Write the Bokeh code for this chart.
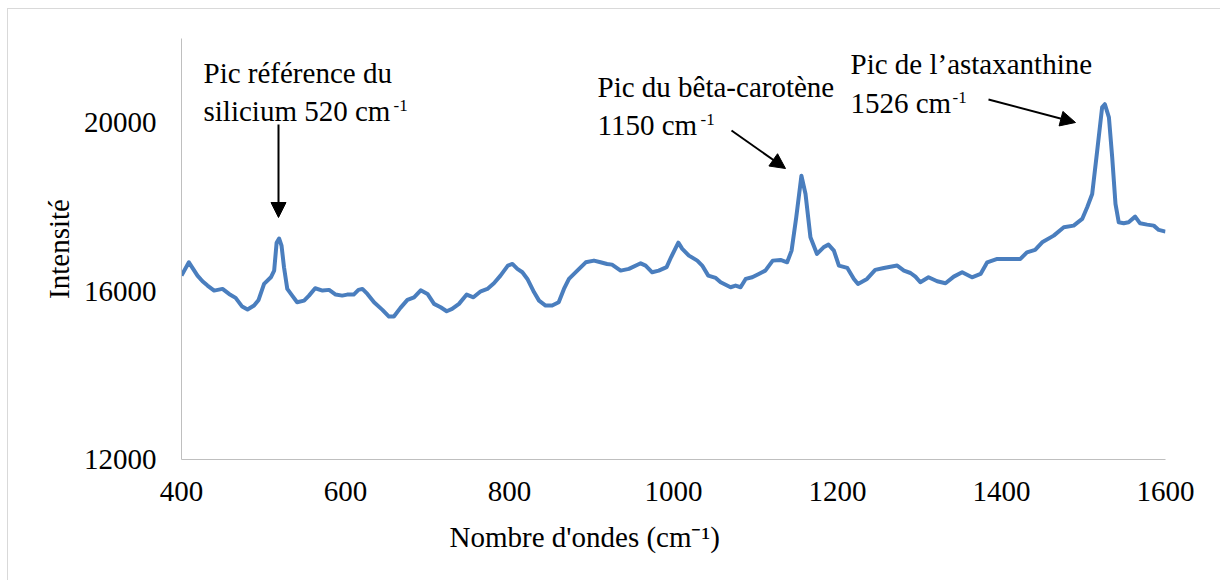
import math
from bokeh.plotting import figure
from bokeh.models import Range1d, Label, Arrow, NormalHead, FixedTicker, Title
from bokeh.embed import file_html
from bokeh.resources import INLINE

# ---- data ----
wavenumber = [400, 409, 419.5, 425.6, 431.7, 439.8, 450, 458, 466, 474, 480.5, 488.5, 494, 500.7,
              509, 513, 516, 519, 522, 525, 529, 535, 541, 549.5, 555.5, 563, 572, 580, 588, 596,
              602, 610, 615.8, 620.6, 626.7, 634.8, 645, 653, 659, 667, 675.5, 683.6, 691.7, 700,
              708, 716, 723.4, 730, 738.4, 747.8, 756, 765, 773, 781, 789, 798, 803.5, 809.6,
              815.7, 821.8, 830, 836, 844, 852, 860, 866.4, 872.5, 882.7, 893, 903, 911, 919, 925,
              935.5, 945.6, 960, 966, 974, 982, 991.6, 997, 1005.9, 1010.7, 1018.8, 1029, 1035,
              1042.4, 1051.5, 1057.5, 1069.6, 1075.7, 1081.8, 1088, 1096, 1104, 1112, 1121,
              1130.5, 1138.6, 1144, 1149.7, 1156, 1161, 1167, 1175, 1183, 1189, 1195.6, 1201.7,
              1212, 1220, 1225, 1236, 1246, 1256.5, 1272.8, 1281, 1289, 1295, 1301, 1311, 1321.6,
              1331.7, 1341.8, 1352, 1364, 1374.5, 1382.6, 1394.8, 1411, 1423, 1431, 1441, 1449.6,
              1463.7, 1476, 1488, 1498.4, 1504.5, 1510.6, 1516.7, 1522.7, 1526, 1531, 1535, 1539,
              1543, 1549, 1555, 1563, 1569, 1577.6, 1585.7, 1591.8, 1600]
intensity = [16368, 16684, 16368, 16233, 16131, 16012, 16052, 15933, 15839, 15632, 15561, 15656,
             15791, 16171, 16328, 16487, 17150, 17250, 17080, 16566, 16052, 15893, 15734, 15774,
             15893, 16067, 16012, 16029, 15917, 15893, 15917, 15917, 16029, 16052, 15933, 15734,
             15554, 15395, 15395, 15601, 15791, 15853, 16020, 15933, 15696, 15616, 15521, 15577,
             15696, 15917, 15853, 15996, 16052, 16186, 16368, 16606, 16645, 16527, 16447, 16289,
             15972, 15774, 15656, 15656, 15734, 16052, 16289, 16487, 16684, 16724, 16684, 16645,
             16629, 16487, 16527, 16660, 16606, 16447, 16487, 16570, 16803, 17150, 17002, 16843,
             16724, 16606, 16368, 16313, 16210, 16091, 16131, 16091, 16289, 16328, 16408, 16487,
             16724, 16740, 16684, 16962, 17752, 18740, 18307, 17277, 16883, 17040, 17104, 16962,
             16606, 16550, 16289, 16171, 16289, 16503, 16550, 16606, 16487, 16430, 16344, 16210,
             16328, 16233, 16186, 16344, 16447, 16328, 16408, 16684, 16764, 16764, 16764, 16921,
             16978, 17159, 17318, 17515, 17555, 17714, 17990, 18307, 19335, 20364, 20440, 20126,
             19176, 18070, 17634, 17610, 17634, 17769, 17610, 17579, 17555, 17453, 17413]
x_ticks = [400, 600, 800, 1000, 1200, 1400, 1600]
y_ticks = [12000, 16000, 20000]

x_title = "Nombre d'ondes (cm\u207b\u00b9)"
y_title = "Intensité"
notes = [
    ("Pic référence du", "silicium 520 cm"),
    ("Pic du bêta-carotène", "1150 cm"),
    ("Pic de l\u2019astaxanthine", "1526 cm"),
]

FONT = "Liberation Serif"
FS = "29px"
SUP = "17px"
W, H = 1213, 572
ML, MR, MT, MB = 173, 56, 29, 122
X0, X1 = 400, 1600
Y0, Y1 = 12000, 22000
OX, OY = 8, 9  # page offset of the canvas
FW = W - ML - MR
FH = H - MT - MB


def dx(px):
    return X0 + (px - (ML + OX)) / FW * (X1 - X0)


def dy(py):
    return Y0 + ((MT + OY + FH) - py) / FH * (Y1 - Y0)


p = figure(width=W, height=H, x_range=Range1d(X0, X1), y_range=Range1d(Y0, Y1),
           output_backend="svg", toolbar_location=None,
           min_border_left=ML, min_border_right=MR, min_border_top=MT, min_border_bottom=MB)
p.styles = {"margin-left": "7px", "margin-top": "8px",
            "border-top": "1px solid #d9d9d9", "border-left": "1px solid #d9d9d9"}
p.outline_line_color = None
p.xgrid.visible = False
p.ygrid.visible = False
p.background_fill_color = "white"
p.border_fill_color = "white"

for ax in (p.xaxis[0], p.yaxis[0]):
    ax.axis_line_color = "#bfbfbf"
    ax.axis_line_width = 1
    ax.major_tick_line_color = None
    ax.minor_tick_line_color = None
    ax.major_tick_out = 0
    ax.major_tick_in = 0
    ax.major_label_text_font = FONT
    ax.major_label_text_font_size = FS
    ax.major_label_text_font_style = "normal"
    ax.major_label_text_color = "black"
    ax.axis_label_text_font = FONT
    ax.axis_label_text_font_size = FS
    ax.axis_label_text_font_style = "normal"
    ax.axis_label_text_color = "black"
p.xaxis.ticker = FixedTicker(ticks=x_ticks)
p.yaxis.ticker = FixedTicker(ticks=y_ticks)
p.xaxis.major_label_standoff = 22
p.yaxis.major_label_standoff = 25
p.yaxis.axis_label = y_title
p.yaxis.axis_label_standoff = 6

p.add_layout(Title(text=x_title, align="left", offset=449 - (ML + OX), standoff=30,
                   text_font=FONT, text_font_size=FS, text_font_style="normal",
                   text_color="black"), "below")

p.line(wavenumber, intensity, line_width=4, line_color="#4a7ebe", line_join="round")


def label(text, px, py, size=FS, align="left"):
    p.add_layout(Label(x=dx(px), y=dy(py), text=text, text_font=FONT, text_font_size=size,
                       text_color="black", text_align=align, text_baseline="alphabetic"))


# annotation texts (page pixel anchors)
label(notes[0][0], 203, 72)
label(notes[0][1], 203, 110)
label("-1", 393, 105, SUP)
label(notes[1][0], 597, 86)
label(notes[1][1], 597, 124)
label("-1", 700, 119, SUP)
label(notes[2][0], 850, 63)
label(notes[2][1], 850, 102)
label("-1", 952, 97, SUP)

# arrows (page pixel anchors)
arrows = [((278, 124), (278, 217)), ((731, 130), (785, 168)), ((988, 99), (1075, 122))]
for (sx, sy), (ex, ey) in arrows:
    p.add_layout(Arrow(end=NormalHead(size=15, fill_color="black", line_color="black"),
                       x_start=dx(sx), y_start=dy(sy), x_end=dx(ex), y_end=dy(ey),
                       line_color="black", line_width=2))

open("out.html", "w").write(file_html(p, INLINE))
